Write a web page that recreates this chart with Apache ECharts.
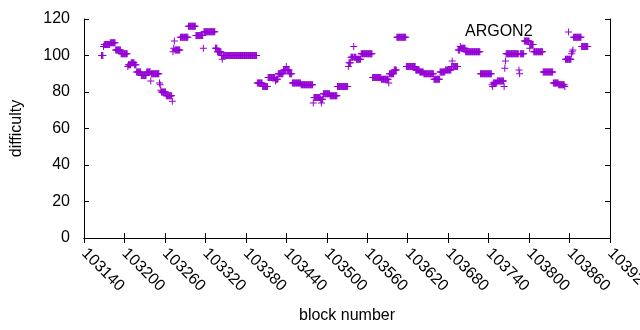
<!DOCTYPE html>
<html>
<head>
<meta charset="utf-8">
<script src="https://cdn.jsdelivr.net/npm/echarts@6/dist/echarts.min.js"></script>
<style>
html,body{margin:0;padding:0;background:#fff;}
#chart{width:640px;height:330px;}
</style>
</head>
<body>
<div id="chart"></div>
<script>
// ---- data ----
const seriesName = 'ARGON2';
const xAxisTitle = 'block number';
const yAxisTitle = 'difficulty';
const xRange = [103140, 103920];
const xStep = 60;
const yRange = [0, 120];
const yStep = 20;
const firstBlock = 103166;   // block number of the first value below; one value per consecutive block
const difficulty = [
 100,100,100,105,106,106,106,106,106,106,106,106,106,
 107,107,107,107,107,107,107,107,
 103,103,103,103,103,103,103,103,
 101,101,101,101,101,101,101,101,101,101,
 94,95,95,95,95,96,96,96,96,96,95,95,95,
 91,91,91,91,91,91,91,
 89,89,89,89,89,89,89,89,
 91,91,91,91,91,91,86,
 90,90,90,90,90,90,90,90,90,90,90,90,
 85,84,81,80,80,80,80,80,80,80,
 78,78,78,78,78,78,78,78,78,75,
 102,104,108,103,103,103,103,103,103,103,103,
 110,110,110,110,110,110,110,110,110,110,110,110,
 116,116,116,116,116,116,116,116,116,116,116,
 111,111,111,111,111,111,111,111,111,111,111,104,
 113,113,113,113,113,113,113,113,113,113,113,113,113,113,113,113,113,
 104,104,104,102,102,102,102,102,102,100,98,
 100,100,100,100,100,100,100,100,100,100,100,100,100,100,100,100,100,
 100,100,100,100,100,100,100,100,100,100,100,100,100,100,100,100,100,
 100,100,100,100,100,100,100,100,100,100,100,100,100,100,100,100,100,
 85,85,85,85,85,85,85,85,83,83,83,83,83,83,83,83,
 88,88,88,88,88,88,88,88,88,88,88,86,87,87,87,
 90,90,90,90,90,90,90,90,92,92,92,92,94,92,92,92,92,90,90,90,90,
 85,85,85,85,85,85,85,85,85,85,85,85,85,
 84,84,84,84,84,84,84,84,84,84,84,84,84,84,84,84,84,84,
 74,77,77,77,77,77,77,77,77,77,77,76,74,76,76,
 79,79,79,79,79,79,79,79,79,79,78,78,78,78,78,78,78,78,78,78,78,
 83,83,83,83,83,83,83,83,83,83,83,83,83,83,83,83,
 94,96,96,96,99,99,99,99,105,99,99,99,98,98,98,98,98,98,98,
 101,101,101,101,101,101,101,101,101,101,101,101,101,101,101,101,101,
 88,88,88,88,88,88,88,88,88,88,88,88,88,
 87,87,87,87,87,87,87,87,87,87,87,85,
 90,90,90,90,90,90,90,92,92,92,92,
 110,110,110,110,110,110,110,110,110,110,110,110,110,110,
 94,94,94,94,94,94,94,94,94,94,94,94,94,94,
 92,92,92,92,92,92,91,91,91,91,91,91,
 90,90,90,90,90,90,90,90,90,90,90,90,90,90,90,
 87,87,87,87,87,87,87,87,87,91,91,91,91,91,91,91,91,
 92,92,92,92,92,92,92,92,92,94,97,94,94,94,94,94,94,94,94,
 103,103,103,105,104,104,104,104,104,104,104,
 102,102,102,102,102,102,102,102,102,102,102,102,102,102,102,102,102,102,102,102,102,102,
 90,90,90,90,90,90,90,90,90,90,90,90,90,90,90,90,90,
 84,83,85,85,85,85,85,85,86,86,86,86,86,86,86,86,86,86,83,
 93,97,101,101,101,101,101,101,101,101,101,101,101,101,101,101,101,101,101,101,101,
 92,90,101,101,101,101,101,101,108,108,108,108,108,108,108,108,104,106,106,106,106,106,
 102,102,102,102,102,102,102,102,102,102,102,102,102,102,
 91,91,91,91,91,91,91,91,91,91,91,91,91,91,91,
 85,85,85,85,85,85,85,85,84,84,84,84,84,84,84,84,84,83,
 98,98,98,98,98,98,98,98,98,101,102,103,
 110,110,110,110,110,110,110,110,110,110,110,110,105,105,105,105,105,105,105,105,105,105
];
// ---------------------------------------

const points = difficulty.map((v, i) => [firstBlock + i, v]);
const plus = 'path://M3,0H4V3H7V4H4V7H3V4H0V3H3Z';
const FONT = '"Liberation Sans", Arial, sans-serif';
const purple = '#9400D3';

const chart = echarts.init(document.getElementById('chart'), null, {renderer: 'canvas'});
const axisLine = {show: true, lineStyle: {color: '#000', width: 1}};
const tick = {show: true, inside: true, length: 5, lineStyle: {color: '#000', width: 1}};

chart.setOption({
  animation: false,
  backgroundColor: '#fff',
  grid: {left: 84, top: 19, width: 526, height: 219, containLabel: false, outerBoundsMode: 'none'},
  legend: {
    data: [{name: seriesName, icon: plus}],
    left: 465, top: 24, padding: 0,
    align: 'right',
    itemWidth: 62, itemHeight: 7,
    selectedMode: false,
    textStyle: {fontFamily: FONT, fontSize: 16, color: '#000', lineHeight: 16}
  },
  xAxis: [{
    type: 'value', min: xRange[0], max: xRange[1], interval: xStep,
    position: 'bottom',
    name: xAxisTitle, nameLocation: 'middle', nameGap: 70,
    nameTextStyle: {fontFamily: FONT, fontSize: 16, color: '#000'},
    axisLine: axisLine, axisTick: tick, splitLine: {show: false},
    axisLabel: {rotate: -45, align: 'left', margin: 13, fontFamily: FONT, fontSize: 16, color: '#000',
      showMinLabel: true, showMaxLabel: true, formatter: v => String(v)}
  }, {
    type: 'value', min: xRange[0], max: xRange[1], interval: xStep,
    position: 'top',
    axisLine: axisLine, axisTick: tick, splitLine: {show: false},
    axisLabel: {show: false}
  }],
  yAxis: [{
    type: 'value', min: yRange[0], max: yRange[1], interval: yStep,
    position: 'left',
    name: yAxisTitle, nameLocation: 'middle', nameGap: 59,
    nameTextStyle: {fontFamily: FONT, fontSize: 16, color: '#000'},
    axisLine: axisLine, axisTick: tick, splitLine: {show: false},
    axisLabel: {margin: 14, fontFamily: FONT, fontSize: 16, color: '#000'}
  }, {
    type: 'value', min: yRange[0], max: yRange[1], interval: yStep,
    position: 'right',
    axisLine: axisLine, axisTick: tick, splitLine: {show: false},
    axisLabel: {show: false}
  }],
  series: [{
    name: seriesName,
    type: 'scatter',
    xAxisIndex: 0, yAxisIndex: 0,
    symbol: plus,
    symbolSize: 7,
    itemStyle: {color: purple, opacity: 1},
    emphasis: {disabled: true},
    data: points
  }]
});
</script>
</body>
</html>
